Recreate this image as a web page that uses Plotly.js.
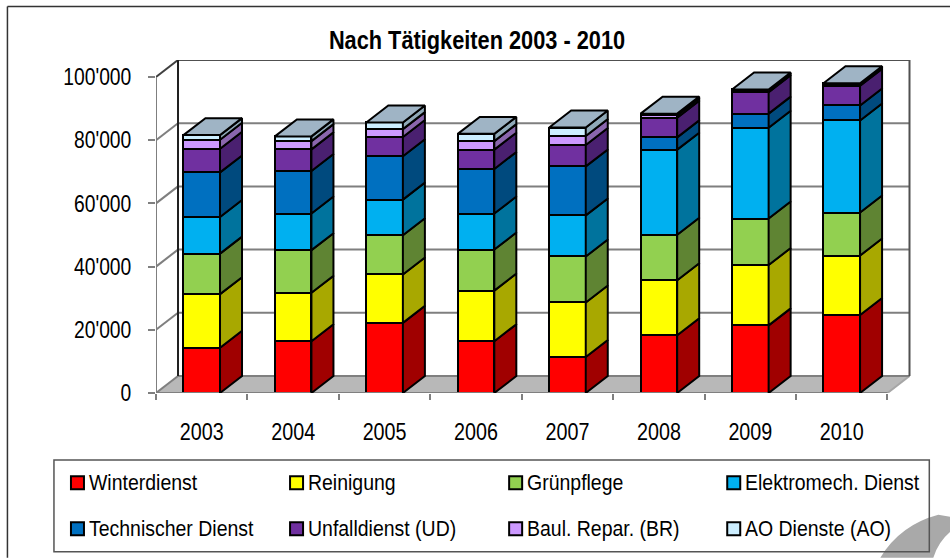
<!DOCTYPE html>
<html><head><meta charset="utf-8">
<script src="https://cdn.plot.ly/plotly-3.0.1.min.js"></script>
<style>html,body{margin:0;padding:0;background:#fff}#c{width:950px;height:558px}</style>
</head><body><div id="c"></div>
<script>
const categories = ['2003','2004','2005','2006','2007','2008','2009','2010'];
const seriesNames = ['Winterdienst','Reinigung','Grünpflege','Elektromech. Dienst','Technischer Dienst','Unfalldienst (UD)','Baul. Repar. (BR)','AO Dienste (AO)'];
const winterdienst = [14300,16400,22200,16400,11400,18300,21400,24700];
const reinigung    = [16980,15300,15300,16000,17250,17400,19100,18800];
const gruenpflege  = [12820,13500,12400,13000,14550,14400,14700,13600];
const elektromech  = [11600,11600,11300,11400,13000,26900,28750,29150];
const technisch    = [14100,13450,13700,14100,15500,3900,4450,4750];
const unfall       = [7500,6850,6100,6100,6800,6200,6800,6200];
const baulRepar    = [2850,2600,2500,2700,2800,800,500,500];
const aoDienste    = [1450,1500,2100,2300,2700,500,350,300];
const yTickVals  = [0,20000,40000,60000,80000,100000];
const yTickText  = ['0',"20'000","40'000","60'000","80'000","100'000"];
const frontColors = ['#ff0000','#ffff00','#92d050','#00b0f0','#0070c0','#7030a0','#cc99ff','#cceeff'];
const sideColors  = ['#a00000','#a8a800','#5f8433','#00739d','#004a7e','#4a2070','#8a66ad','#8fa9b8'];
const topColor = '#9fb4c5';
const allSeries = [winterdienst,reinigung,gruenpflege,elektromech,technisch,unfall,baulRepar,aoDienste];

// page geometry
const L=156, R=910.7, T=59.5, B=393, W=950, H=558;
const pxPerCat=91.4, pxPerUnit=316.5/100000;
const depthX=22/pxPerCat, depthY=17/pxPerUnit, barW=0.4;
const xMax=(R-L)/pxPerCat, yMax=(B-T)/pxPerUnit;
const xp=p=>(p-L)/(R-L), yp=p=>(B-p)/(B-T);
const FONT='"Liberation Sans",Arial,sans-serif';
const xc=categories.map((_,i)=>i+0.5);

const traces=[];
// front faces
allSeries.forEach((s,k)=>traces.push({type:'bar',x:xc,y:s,width:barW,name:seriesNames[k],
  marker:{color:frontColors[k],line:{color:'#000',width:2}},hoverinfo:'x+y+name',showlegend:false}));
// front axes
traces.push({type:'scatter',mode:'lines',x:[0,0],y:[0,100000],cliponaxis:false,line:{color:'#7f7f7f',width:2},hoverinfo:'skip',showlegend:false});
traces.push({type:'scatter',mode:'lines',x:[0,categories.length],y:[0,0],cliponaxis:false,line:{color:'#7f7f7f',width:2},hoverinfo:'skip',showlegend:false});
// side faces
const base=categories.map(()=>0);
allSeries.forEach((s,k)=>{
  const xs=[],ys=[];
  s.forEach((v,i)=>{
    const x1=xc[i]+barW/2,y0=base[i],y1=y0+v;
    xs.push(x1,x1+depthX,x1+depthX,x1,x1,null);
    ys.push(y0,y0+depthY,y1+depthY,y1,y0,null);
    base[i]=y1;
  });
  traces.push({type:'scatter',mode:'lines',x:xs,y:ys,fill:'toself',fillcolor:sideColors[k],
    line:{color:'#000',width:2},hoverinfo:'skip',showlegend:false});
});
// top faces
const tx=[],ty=[];
base.forEach((t,i)=>{
  const a=xc[i]-barW/2,b=xc[i]+barW/2;
  tx.push(a,a+depthX,b+depthX,b,a,null);
  ty.push(t,t+depthY,t+depthY,t,t,null);
});
traces.push({type:'scatter',mode:'lines',x:tx,y:ty,fill:'toself',fillcolor:topColor,line:{color:'#000',width:2},hoverinfo:'skip',showlegend:false});

// walls, floor, grid
const n=categories.length, shapes=[];
const grid={color:'#7f7f7f',width:2};
shapes.push({type:'path',layer:'below',xref:'x',yref:'y',
  path:`M0,0 L${n},0 L${n+depthX},${depthY} L${depthX},${depthY} Z`,fillcolor:'#b8b8b8',line:{width:0}});
shapes.push({type:'line',layer:'below',xref:'x',yref:'y',x0:n,y0:0,x1:n+depthX,y1:depthY,line:{color:'#a6a6a6',width:2}});
yTickVals.forEach(v=>{
  shapes.push({type:'line',layer:'below',xref:'x',yref:'y',x0:0,y0:v,x1:depthX,y1:v+depthY,line:{color:v===100000?'#404040':grid.color,width:2}});
  shapes.push({type:'line',layer:'below',xref:'x',yref:'y',x0:depthX,y0:v+depthY,x1:n+depthX,y1:v+depthY,line:{color:v===100000?'#505050':grid.color,width:2}});
});
shapes.push({type:'line',layer:'below',xref:'x',yref:'y',x0:depthX,y0:depthY,x1:depthX,y1:100000+depthY,line:{color:'#202020',width:2}});
shapes.push({type:'line',layer:'below',xref:'x',yref:'y',x0:n+depthX,y0:depthY,x1:n+depthX,y1:100000+depthY,line:{color:'#505050',width:2}});

// page frame, arc decoration
const paper={xref:'paper',yref:'paper',layer:'above'};
shapes.push({...paper,type:'line',x0:xp(7.5),y0:yp(6),x1:xp(7.5),y1:yp(558),line:{color:'#333',width:1.5}});
shapes.push({...paper,type:'line',x0:xp(7.5),y0:yp(6),x1:xp(950),y1:yp(6),line:{color:'#333',width:1.5}});
const P=(a,b)=>`${xp(a)},${yp(b)}`;
shapes.push({...paper,type:'path',path:`M${P(880,558)} Q${P(900,525)} ${P(938,515)} L${P(950,517)} L${P(950,532)} Q${P(938,542)} ${P(933,558)} Z`,fillcolor:'#a9a9a9',line:{width:0}});
shapes.push({...paper,type:'rect',x0:xp(54),y0:yp(460),x1:xp(929),y1:yp(552),fillcolor:'rgba(0,0,0,0)',line:{color:'#555',width:1.5}});

// legend
const colX=[71,290,509,727], rowY=[483,529], annotations=[];
seriesNames.forEach((nm,k)=>{
  const c=colX[k%4], r=rowY[Math.floor(k/4)];
  shapes.push({...paper,type:'rect',x0:xp(c),x1:xp(c+13),y0:yp(r-6.5),y1:yp(r+6.5),fillcolor:frontColors[k],line:{color:'#000',width:2}});
  annotations.push({xref:'paper',yref:'paper',x:xp(c+16),y:yp(r),xanchor:'left',yanchor:'middle',showarrow:false,text:nm,
    font:{family:FONT,size:22,color:'#000'}});
});

const layout={
  width:W,height:H,autosize:false,showlegend:false,barmode:'stack',
  paper_bgcolor:'#fff',plot_bgcolor:'rgba(0,0,0,0)',
  margin:{l:L,r:W-R,t:T,b:H-B,pad:0},
  title:{text:'<b>Nach Tätigkeiten 2003 - 2010</b>',x:477/W,y:1-40/H,xref:'container',yref:'container',xanchor:'center',yanchor:'middle',
    font:{family:FONT,size:25,color:'#000'}},
  xaxis:{range:[0,xMax],tickmode:'array',tickvals:xc,ticktext:categories,ticks:'',showgrid:false,zeroline:false,showline:false,
    ticklabelstandoff:22,tickfont:{family:FONT,size:23.5,color:'#000'},
    minor:{tickmode:'array',tickvals:categories.map((_,i)=>i).concat([n]),ticks:'outside',ticklen:6,tickwidth:1.5,tickcolor:'#7f7f7f',showgrid:false}},
  yaxis:{range:[0,yMax],tickmode:'array',tickvals:yTickVals,ticktext:yTickText,ticks:'outside',ticklen:7,tickwidth:2,tickcolor:'#7f7f7f',
    showgrid:false,zeroline:false,showline:false,ticklabelstandoff:12,tickfont:{family:FONT,size:23.5,color:'#000'}},
  shapes,annotations
};
// the reference's type is condensed; squeeze glyph widths of the real text
function condense(sel,f,keepLeft){
  document.querySelectorAll(sel).forEach(t=>{
    const len=t.getComputedTextLength();
    t.setAttribute('lengthAdjust','spacingAndGlyphs');
    t.setAttribute('textLength',(len*f).toFixed(1));
    if(keepLeft){
      const x=parseFloat(t.getAttribute('x'))||0;
      t.setAttribute('x',(x-len*(1-f)/2).toFixed(1));
      t.querySelectorAll('tspan').forEach(s=>{ if(s.hasAttribute('x')) s.setAttribute('x',(parseFloat(s.getAttribute('x'))-len*(1-f)/2).toFixed(1)); });
    }
  });
}
Plotly.newPlot('c',traces,layout,{displayModeBar:false,responsive:false}).then(()=>{
  condense('.xtick text',0.84);
  condense('.ytick text',0.82);
  condense('.annotation-text',0.885,true);
  condense('.gtitle',0.87);
});
</script></body></html>
